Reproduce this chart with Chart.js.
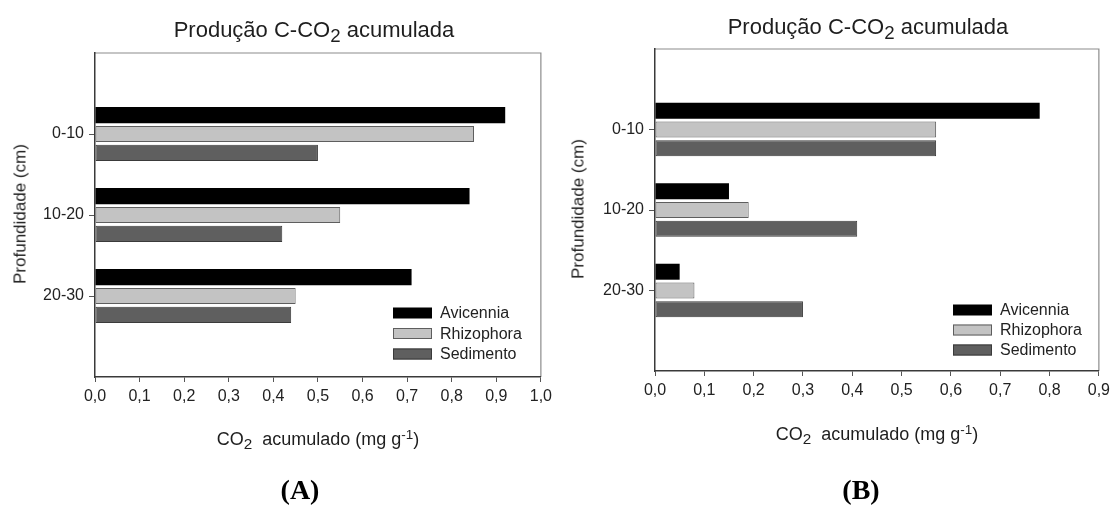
<!DOCTYPE html>
<html>
<head>
<meta charset="utf-8">
<title>Produção C-CO2 acumulada</title>
<script src="https://cdn.jsdelivr.net/npm/chart.js@4.4.1/dist/chart.umd.min.js"></script>
<style>
  body { margin: 0; background: #fff; }
  #pagina { position: relative; width: 1115px; height: 509px; overflow: hidden; font-family: "Liberation Sans", Arial, sans-serif; color: #1e1e1e; }
  canvas { position: absolute; top: 0; }
  .txt { position: absolute; white-space: nowrap; line-height: 1; }
  .titulo { font-size: 22px; transform: translateX(-50%); }
  .eixo { font-size: 18px; transform: translateX(-50%); }
  .eixoY { font-size: 17px; transform: translate(-50%, -50%) rotate(-90deg); }
  .letra { font-family: "Liberation Serif", "Times New Roman", serif; font-weight: bold; font-size: 28px; transform: translate(-50%, -50%); color: #000; }
  sub { font-size: 0.85em; vertical-align: -0.28em; line-height: 0; }
  sup { font-size: 0.75em; vertical-align: 0.45em; line-height: 0; }
</style>
</head>
<body>
<div id="pagina">
  <canvas id="graficoA" width="557" height="509" style="left:0px"></canvas>
  <canvas id="graficoB" width="558" height="509" style="left:557px"></canvas>

  <div class="txt titulo" style="left:314px; top:19px">Produção C-CO<sub>2</sub> acumulada</div>
  <div class="txt titulo" style="left:868px; top:16px">Produção C-CO<sub>2</sub> acumulada</div>

  <div class="txt eixoY" style="left:20px; top:214px">Profundidade (cm)</div>
  <div class="txt eixoY" style="left:578px; top:209px">Profundidade (cm)</div>

  <div class="txt eixo" style="left:318px; top:430px">CO<sub>2</sub>&nbsp; acumulado (mg g<sup>-1</sup>)</div>
  <div class="txt eixo" style="left:877px; top:425px">CO<sub>2</sub>&nbsp; acumulado (mg g<sup>-1</sup>)</div>

  <div class="txt letra" style="left:300px; top:490px">(A)</div>
  <div class="txt letra" style="left:861px; top:490px">(B)</div>
</div>

<script>
// profundidades do solo e series
const profundidades = ['0-10', '10-20', '20-30'];
const series = ['Avicennia', 'Rhizophora', 'Sedimento'];

// (A) CO2 acumulado, mg g-1
const avicenniaA = [0.92, 0.84, 0.71];
const rhizophoraA = [0.85, 0.55, 0.45];
const sedimentoA = [0.50, 0.42, 0.44];

// (B)
const avicenniaB = [0.78, 0.15, 0.05];
const rhizophoraB = [0.57, 0.19, 0.08];
const sedimentoB = [0.57, 0.41, 0.30];

const maxA = 1.0;
const maxB = 0.9;

const corTexto = '#222';
Chart.defaults.font.family = '"Liberation Sans", Arial, sans-serif';
Chart.defaults.color = corTexto;

// uma categoria vazia em cima e outra embaixo, para deixar espaço no eixo
function comMargem(arr) {
  return [null].concat(arr, [null]);
}

// linhas de cima e da direita do quadro
const quadro = {
  id: 'quadro',
  beforeDraw(chart) {
    const a = chart.chartArea;
    const c = chart.ctx;
    c.save();
    c.strokeStyle = '#8c8c8c';
    c.lineWidth = 1.2;
    c.beginPath();
    c.moveTo(a.left, a.top);
    c.lineTo(a.right, a.top);
    c.lineTo(a.right, a.bottom);
    c.stroke();
    c.restore();
  }
};

// legenda dentro da área do gráfico
const legendaCaixa = {
  id: 'legendaCaixa',
  afterDatasetsDraw(chart, args, opts) {
    const c = chart.ctx;
    c.save();
    c.font = '16px "Liberation Sans", Arial, sans-serif';
    c.textBaseline = 'middle';
    chart.data.datasets.forEach(function (ds, i) {
      const y = opts.y + i * opts.passo;
      c.fillStyle = ds.backgroundColor;
      c.fillRect(opts.x, y - 5.5, 39, 11);
      if (ds.borderWidth) {
        c.strokeStyle = ds.borderColor;
        c.lineWidth = 1;
        c.strokeRect(opts.x + 0.5, y - 5, 38, 10);
      }
      c.fillStyle = corTexto;
      c.fillText(ds.label, opts.x + 47, y + 1);
    });
    c.restore();
  }
};

function criarGrafico(id, av, rh, se, maxX, padding, legenda) {
  const ctx = document.getElementById(id).getContext('2d');
  return new Chart(ctx, {
    type: 'bar',
    data: {
      labels: comMargem(profundidades).map(v => v === null ? '' : v),
      datasets: [
        { label: series[0], data: comMargem(av), backgroundColor: '#000000', borderColor: '#000000', borderWidth: 0 },
        { label: series[1], data: comMargem(rh), backgroundColor: '#c3c3c3', borderColor: '#5e5e5e', borderWidth: 1 },
        { label: series[2], data: comMargem(se), backgroundColor: '#5f5f5f', borderColor: '#3a3a3a', borderWidth: 1 }
      ]
    },
    options: {
      indexAxis: 'y',
      responsive: false,
      animation: false,
      layout: { padding: padding },
      datasets: {
        bar: { categoryPercentage: 0.7, barPercentage: 0.85, borderSkipped: false }
      },
      plugins: {
        legend: { display: false },
        tooltip: { enabled: false },
        legendaCaixa: legenda
      },
      scales: {
        x: {
          type: 'linear',
          min: 0,
          max: maxX,
          ticks: {
            stepSize: 0.1,
            autoSkip: false,
            maxRotation: 0,
            padding: 5,
            color: corTexto,
            font: { size: 16 },
            callback: v => v.toFixed(1).replace('.', ',')
          },
          grid: { drawOnChartArea: false, tickLength: 5, tickColor: '#555', tickWidth: 1 },
          border: { color: '#3a3a3a', width: 1.5 },
          afterFit: s => { s.height = 40; }
        },
        y: {
          offset: false,
          ticks: { autoSkip: false, padding: 5, color: corTexto, font: { size: 16 } },
          grid: {
            offset: false,
            drawOnChartArea: false,
            tickLength: 6,
            tickWidth: 1,
            tickColor: c => (c.index === 0 || c.index === 4) ? 'rgba(0,0,0,0)' : '#555'
          },
          border: { color: '#3a3a3a', width: 1.5 },
          afterFit: s => { s.width = 60; }
        }
      }
    },
    plugins: [quadro, legendaCaixa]
  });
}

criarGrafico('graficoA', avicenniaA, rhizophoraA, sedimentoA, maxA,
  { left: 35, right: 16, top: 53, bottom: 92 },
  { x: 393, y: 313, passo: 20.5 });

criarGrafico('graficoB', avicenniaB, rhizophoraB, sedimentoB, maxB,
  { left: 38, right: 14, top: 49, bottom: 98 },
  { x: 396, y: 310, passo: 20 });
</script>
</body>
</html>
